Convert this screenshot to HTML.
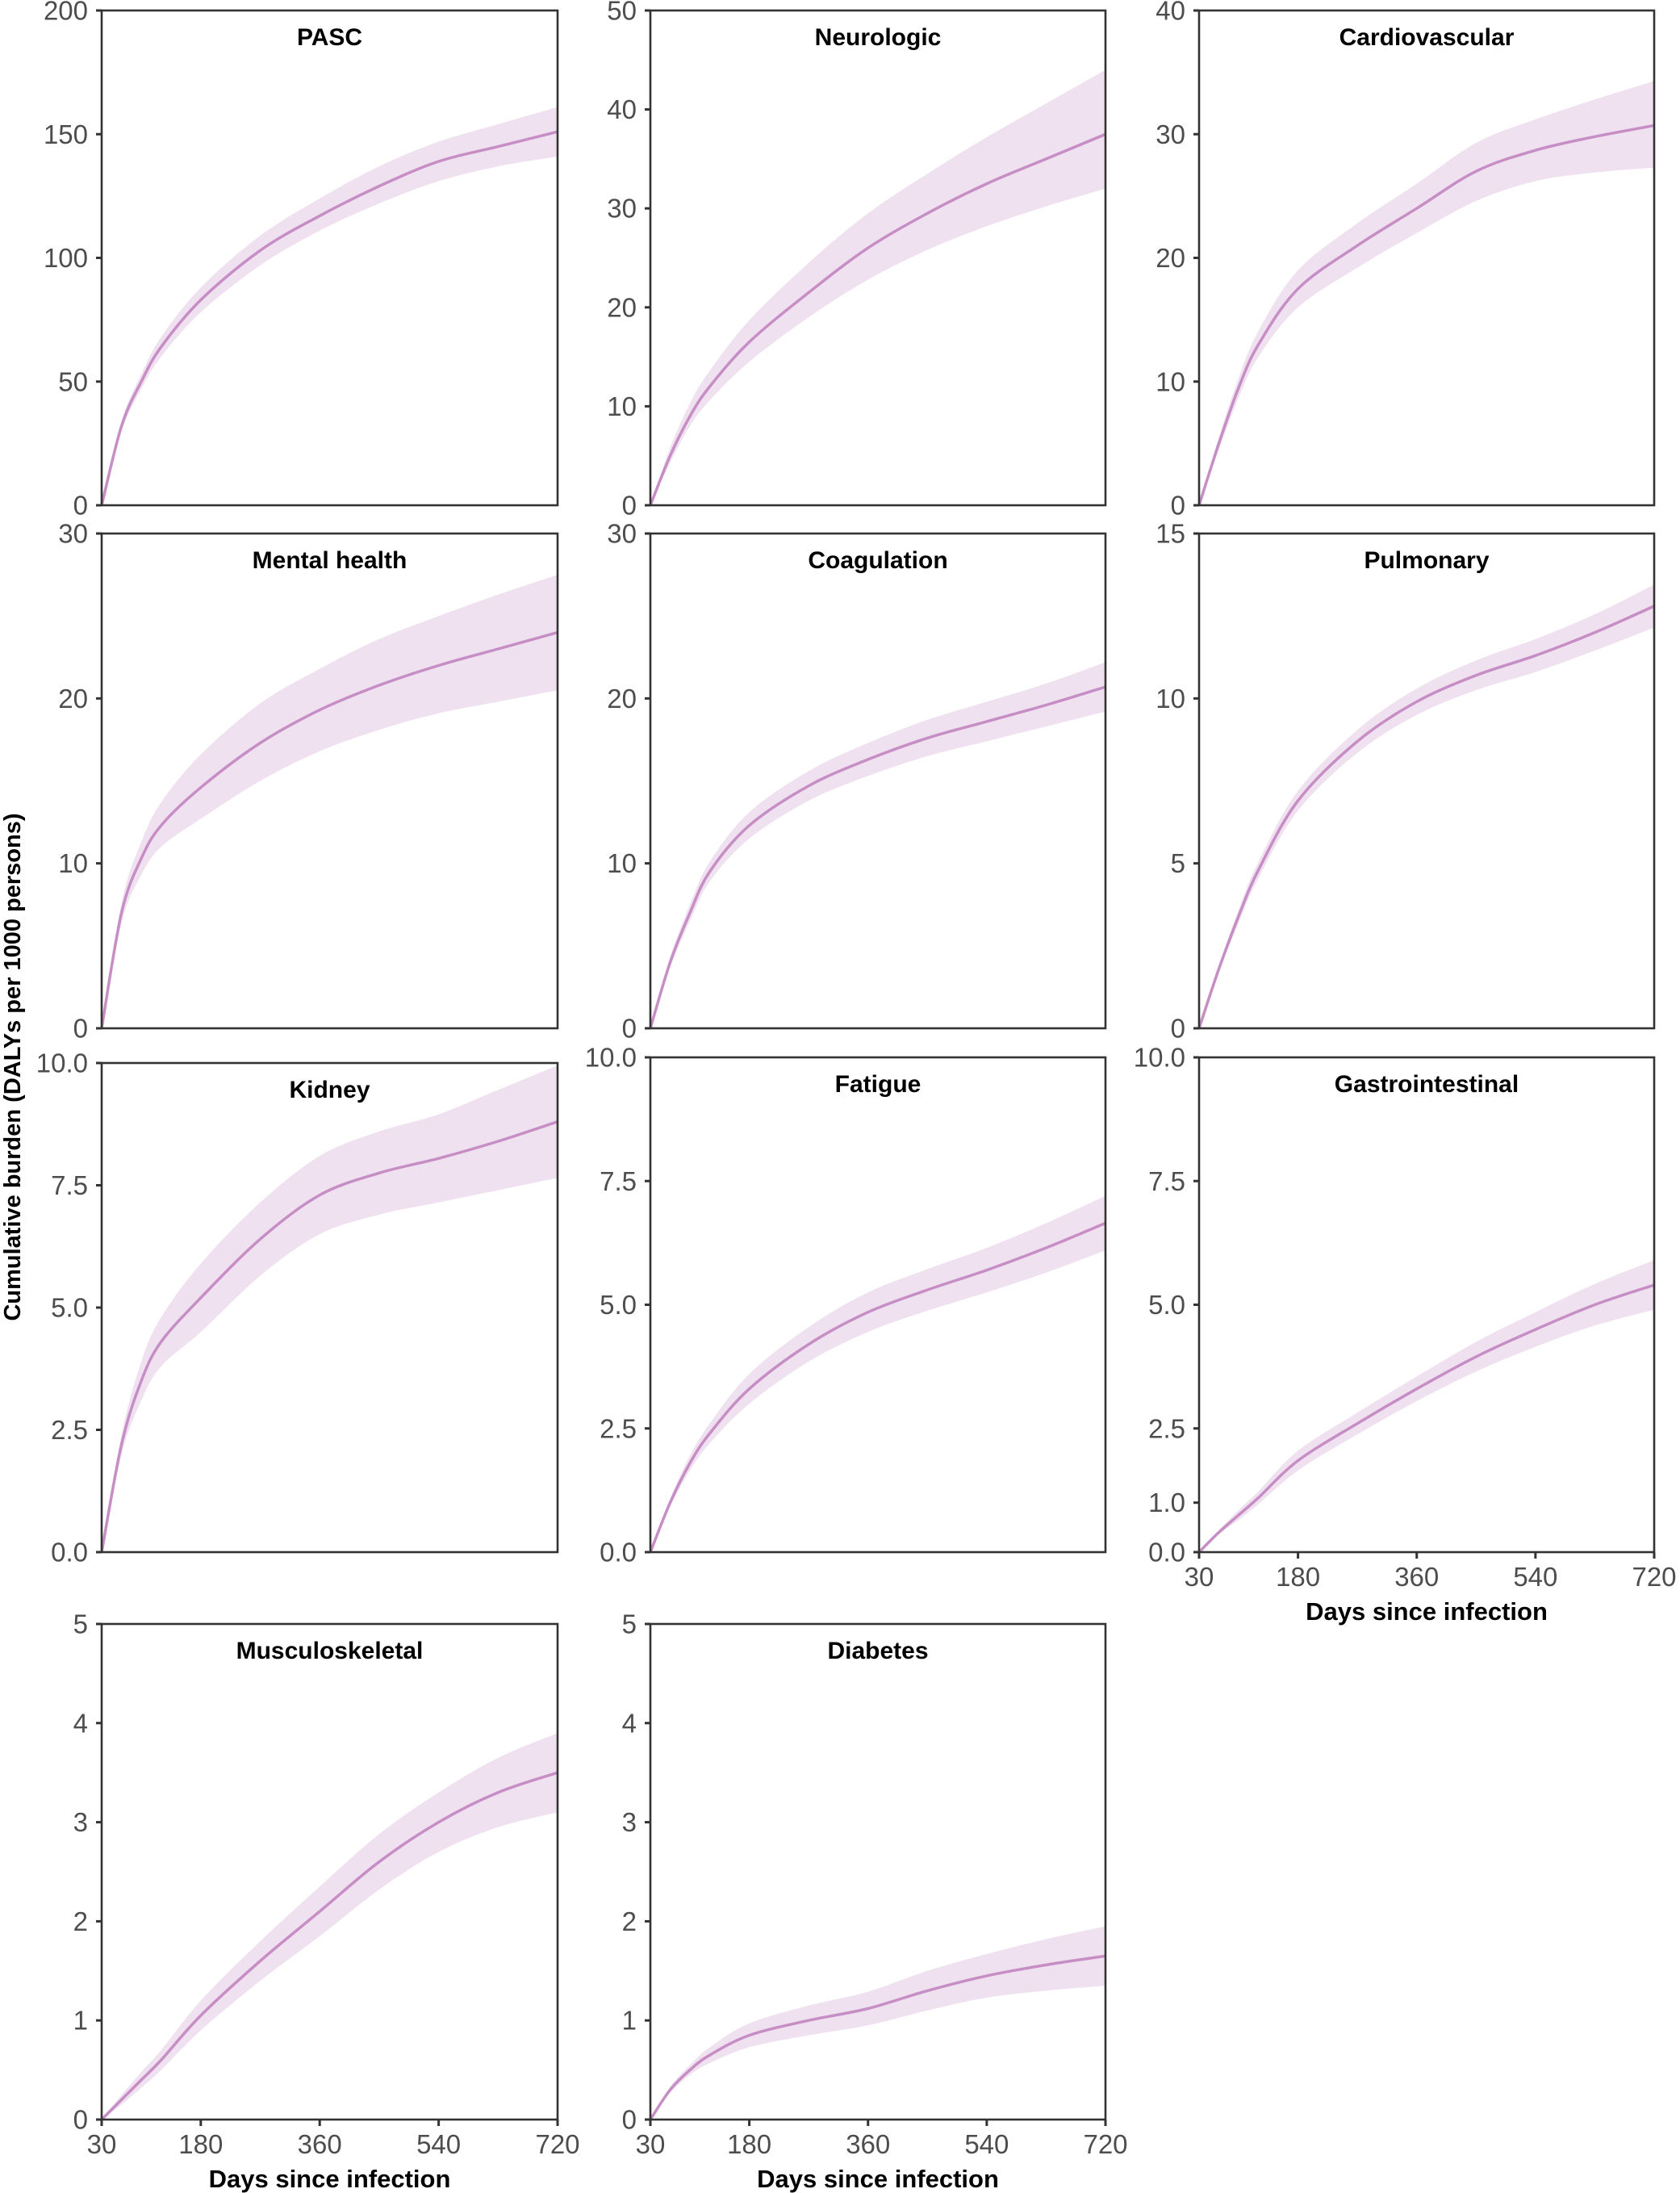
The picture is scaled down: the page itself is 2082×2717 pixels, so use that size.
<!DOCTYPE html>
<html><head><meta charset="utf-8"><style>
html,body{margin:0;padding:0;background:#fff;}
svg{display:block;}
</style></head><body>
<svg id="s" xmlns="http://www.w3.org/2000/svg" width="2082" height="2717" viewBox="0 0 2082 2717" font-family="Liberation Sans, Arial, sans-serif">
<rect width="2082" height="2717" fill="#fff"/>
<text transform="translate(16,1322) rotate(-90)" text-anchor="middle" dominant-baseline="central" font-size="29" font-weight="bold" fill="#000">Cumulative burden (DALYs per 1000 persons)</text>
</svg>
<script>
const S=document.getElementById('s');const NS='http://www.w3.org/2000/svg';
function el(t,a,txt){const e=document.createElementNS(NS,t);for(const k in a)e.setAttribute(k,a[k]);if(txt!==undefined)e.textContent=txt;S.appendChild(e);return e;}
const cols=[[126,691],[806,1370],[1486,2050]];
const rows=[[13,626],[661,1274],[1310,1923],[2012,2626]];
const P=[
{t:'PASC',c:0,r:0,max:200,ticks:[0,50,100,150,200],fmt:0,d:[[30,0,0,0],[60,32,30,34],[90,50,47,53],[120,64,60,68],[180,83,78,88],[270,103,97,109],[360,117,111,124],[450,129,122,137],[540,139,131,147],[630,145,137,154],[720,151,141,161]]},
{t:'Neurologic',c:1,r:0,max:50,ticks:[0,10,20,30,40,50],fmt:0,d:[[30,0,0,0],[60,5,4.3,5.8],[90,9,8,10.3],[120,12,10.6,13.6],[180,16.5,14.5,18.7],[270,21.5,19,24.5],[360,26,22.8,29.5],[450,29.5,25.8,33.5],[540,32.5,28.2,37.2],[630,35,30.2,40.6],[720,37.5,32,44]]},
{t:'Cardiovascular',c:2,r:0,max:40,ticks:[0,10,20,30,40],fmt:0,d:[[30,0,0,0],[60,5,4.5,5.5],[90,9.5,8.7,10.3],[120,13,12,14.1],[180,17.5,16,19],[270,21,19.2,22.8],[360,24,22,26],[450,27,24.6,29.3],[540,28.7,26.2,31.2],[630,29.8,26.9,32.8],[720,30.7,27.3,34.3]]},
{t:'Mental health',c:0,r:1,max:30,ticks:[0,10,20,30],fmt:0,d:[[30,0,0,0],[60,7,6.4,7.6],[90,10.3,9.3,11.3],[120,12.3,11,13.7],[180,14.6,12.7,16.6],[270,17.3,15,19.7],[360,19.3,16.8,21.8],[450,20.8,18.1,23.6],[540,22,19.1,25],[630,23,19.8,26.3],[720,24,20.5,27.5]]},
{t:'Coagulation',c:1,r:1,max:30,ticks:[0,10,20,30],fmt:0,d:[[30,0,0,0],[60,4,3.7,4.3],[90,7,6.5,7.5],[120,9.5,8.9,10.1],[180,12.3,11.5,13.1],[270,14.7,13.8,15.6],[360,16.3,15.3,17.3],[450,17.6,16.5,18.7],[540,18.6,17.4,19.8],[630,19.6,18.3,20.9],[720,20.7,19.2,22.2]]},
{t:'Pulmonary',c:2,r:1,max:15,ticks:[0,5,10,15],fmt:0,d:[[30,0,0,0],[60,1.8,1.7,1.9],[90,3.4,3.2,3.6],[120,4.8,4.55,5.05],[180,6.9,6.6,7.2],[270,8.7,8.35,9.05],[360,9.9,9.5,10.3],[450,10.7,10.25,11.15],[540,11.3,10.8,11.8],[630,12,11.45,12.55],[720,12.8,12.15,13.45]]},
{t:'Kidney',c:0,r:2,top:1317,max:10,ticks:[0,2.5,5,7.5,10],fmt:1,d:[[30,0,0,0],[60,2.2,2,2.4],[90,3.5,3.1,3.9],[120,4.3,3.8,4.8],[180,5.2,4.5,5.9],[270,6.4,5.65,7.15],[360,7.3,6.5,8.1],[450,7.75,6.9,8.6],[540,8.05,7.15,8.95],[630,8.4,7.4,9.45],[720,8.8,7.65,9.95]]},
{t:'Fatigue',c:1,r:2,max:10,ticks:[0,2.5,5,7.5,10],fmt:1,d:[[30,0,0,0],[60,1,0.92,1.08],[90,1.8,1.65,1.95],[120,2.4,2.2,2.6],[180,3.3,3,3.6],[270,4.2,3.85,4.55],[360,4.85,4.45,5.25],[450,5.3,4.88,5.72],[540,5.7,5.25,6.15],[630,6.15,5.65,6.65],[720,6.65,6.1,7.2]]},
{t:'Gastrointestinal',c:2,r:2,max:10,ticks:[0,1,2.5,5,7.5,10],fmt:1,xa:true,d:[[30,0,0,0],[60,0.4,0.36,0.44],[90,0.75,0.65,0.85],[120,1.1,0.97,1.23],[180,1.85,1.65,2.05],[270,2.6,2.38,2.82],[360,3.3,3.05,3.55],[450,3.95,3.65,4.25],[540,4.5,4.15,4.85],[630,5,4.58,5.42],[720,5.4,4.9,5.9]]},
{t:'Musculoskeletal',c:0,r:3,max:5,ticks:[0,1,2,3,4,5],fmt:0,xa:true,d:[[30,0,0,0],[60,0.2,0.15,0.25],[90,0.4,0.32,0.48],[120,0.6,0.5,0.7],[180,1.05,0.9,1.2],[270,1.6,1.4,1.8],[360,2.1,1.85,2.35],[450,2.6,2.32,2.88],[540,3.0,2.7,3.3],[630,3.3,2.95,3.65],[720,3.5,3.1,3.9]]},
{t:'Diabetes',c:1,r:3,max:5,ticks:[0,1,2,3,4,5],fmt:0,xa:true,d:[[30,0,0,0],[60,0.3,0.27,0.33],[90,0.5,0.45,0.55],[120,0.65,0.57,0.73],[180,0.85,0.73,0.97],[270,1,0.85,1.15],[360,1.12,0.95,1.29],[450,1.3,1.1,1.5],[540,1.45,1.23,1.67],[630,1.56,1.3,1.82],[720,1.65,1.35,1.95]]}
];
function cr(pts){let d='';for(let i=0;i<pts.length-1;i++){const p0=pts[Math.max(0,i-1)],p1=pts[i],p2=pts[i+1],p3=pts[Math.min(pts.length-1,i+2)];
const c1=[p1[0]+(p2[0]-p0[0])/6,p1[1]+(p2[1]-p0[1])/6],c2=[p2[0]-(p3[0]-p1[0])/6,p2[1]-(p3[1]-p1[1])/6];
d+=`C${c1[0].toFixed(1)},${c1[1].toFixed(1)} ${c2[0].toFixed(1)},${c2[1].toFixed(1)} ${p2[0].toFixed(1)},${p2[1].toFixed(1)} `;}return d;}
P.forEach((p,i)=>{const [L,R]=cols[p.c];let [T,Bt]=rows[p.r];if(p.top)T=p.top;
const X=d=>L+(d-30)/(690)*(R-L),Y=v=>Bt-v/p.max*(Bt-T);
const cid='c'+i;const cp=el('clipPath',{id:cid});const rr=document.createElementNS(NS,'rect');rr.setAttribute('x',L);rr.setAttribute('y',T);rr.setAttribute('width',R-L);rr.setAttribute('height',Bt-T);cp.appendChild(rr);
const hi=p.d.map(q=>[X(q[0]),Y(q[3])]),lo=p.d.map(q=>[X(q[0]),Y(q[2])]).reverse(),mn=p.d.map(q=>[X(q[0]),Y(q[1])]);
el('path',{d:`M${hi[0][0]},${hi[0][1]} `+cr(hi)+`L${lo[0][0]},${lo[0][1]} `+cr(lo)+'Z',fill:'#efe1ef','clip-path':`url(#${cid})`});
el('path',{d:`M${mn[0][0]},${mn[0][1]} `+cr(mn),fill:'none',stroke:'#c78ec6','stroke-width':3.5,'clip-path':`url(#${cid})`});
el('rect',{x:L,y:T,width:R-L,height:Bt-T,fill:'none',stroke:'#333','stroke-width':2.6});
p.ticks.forEach(v=>{const y=Y(v);el('line',{x1:L-7,x2:L,y1:y,y2:y,stroke:'#333','stroke-width':3});
el('text',{x:L-17,y:y,'text-anchor':'end','dominant-baseline':'central','font-size':33,fill:'#4d4d4d'},p.fmt?v.toFixed(1):String(v));});
el('text',{x:(L+R)/2,y:T+43,'text-anchor':'middle','font-size':30,'font-weight':'bold',fill:'#000'},p.t);
if(p.xa){[30,180,360,540,720].forEach(d=>{const x=X(d);el('line',{x1:x,x2:x,y1:Bt,y2:Bt+8,stroke:'#333','stroke-width':3});
el('text',{x:x,y:Bt+42,'text-anchor':'middle','font-size':33,fill:'#4d4d4d'},String(d));});
el('text',{x:(L+R)/2,y:Bt+84,'text-anchor':'middle','font-size':31,'font-weight':'bold',fill:'#000'},'Days since infection');}
});
</script>
</body></html>
